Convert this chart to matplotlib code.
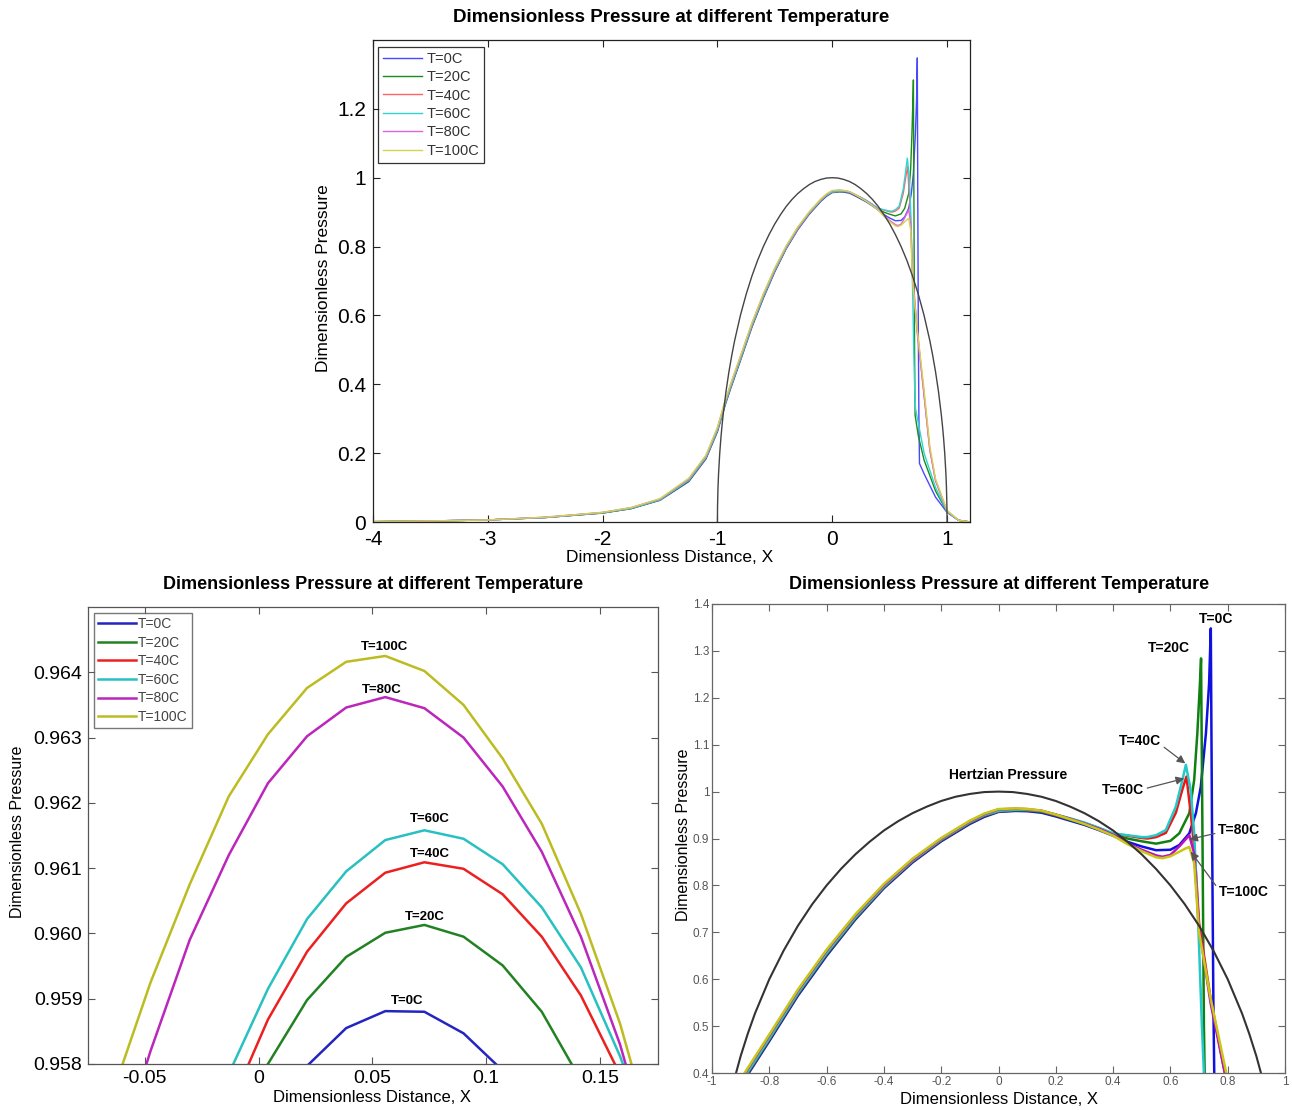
import matplotlib
matplotlib.use('Agg')
import matplotlib.pyplot as plt
from matplotlib.ticker import FuncFormatter, FixedLocator

plt.rcParams['font.family'] = ['Liberation Sans', 'DejaVu Sans']

# ---------------- data ----------------
labels = ['T=0C', 'T=20C', 'T=40C', 'T=60C', 'T=80C', 'T=100C']

# inlet / contact part (shared x)
inlet_x = [-4.0, -3.5, -3.0, -2.5, -2.0, -1.75, -1.5, -1.25, -1.1, -1.0, -0.93, -0.88,
           -0.8, -0.7, -0.6, -0.5, -0.4, -0.3, -0.2, -0.1, -0.05, 0.0, 0.06, 0.1, 0.15,
           0.2, 0.25, 0.3, 0.35, 0.4]
inlet_T0 = [0.001, 0.003, 0.006, 0.013, 0.026, 0.039, 0.063, 0.117, 0.183, 0.262, 0.342, 0.392,
            0.468, 0.565, 0.650, 0.727, 0.794, 0.849, 0.894, 0.931, 0.946, 0.9567, 0.9588, 0.9582, 0.955,
            0.947, 0.938, 0.929, 0.918, 0.906]
inlet_T20 = [0.001, 0.003, 0.006, 0.013, 0.026, 0.039, 0.064, 0.119, 0.185, 0.265, 0.345, 0.395,
             0.471, 0.568, 0.653, 0.729, 0.796, 0.851, 0.896, 0.933, 0.948, 0.9577, 0.9600, 0.9597, 0.9570,
             0.949, 0.940, 0.931, 0.920, 0.908]
inlet_T40 = [0.001, 0.003, 0.006, 0.013, 0.027, 0.040, 0.065, 0.121, 0.187, 0.267, 0.347, 0.397,
             0.473, 0.570, 0.655, 0.731, 0.797, 0.852, 0.897, 0.934, 0.949, 0.9584, 0.9610, 0.9608, 0.9585,
             0.950, 0.942, 0.933, 0.922, 0.910]
inlet_T60 = [0.001, 0.003, 0.006, 0.013, 0.027, 0.040, 0.065, 0.122, 0.188, 0.268, 0.348, 0.398,
             0.474, 0.571, 0.656, 0.732, 0.798, 0.853, 0.898, 0.935, 0.950, 0.9589, 0.9615, 0.9612, 0.9589,
             0.951, 0.943, 0.934, 0.923, 0.911]
inlet_T80 = [0.001, 0.003, 0.006, 0.014, 0.028, 0.042, 0.067, 0.125, 0.192, 0.273, 0.354, 0.404,
             0.480, 0.576, 0.661, 0.736, 0.801, 0.855, 0.900, 0.937, 0.952, 0.9620, 0.9636, 0.9626, 0.9592,
             0.951, 0.942, 0.932, 0.921, 0.908]
inlet_T100 = [0.001, 0.003, 0.006, 0.014, 0.028, 0.042, 0.068, 0.127, 0.194, 0.275, 0.356, 0.406,
              0.482, 0.578, 0.663, 0.738, 0.803, 0.857, 0.901, 0.938, 0.953, 0.9628, 0.9642, 0.9631, 0.9596,
              0.951, 0.941, 0.931, 0.919, 0.906]

# outlet part (pressure spike region), individual x for each temperature
out_x_T0 = [0.45, 0.5, 0.55, 0.6, 0.631, 0.666, 0.689, 0.706, 0.724, 0.735, 0.741, 0.745, 0.75, 0.755, 0.76, 0.8, 0.9, 1.0, 1.1, 1.2]
out_p_T0 = [0.893, 0.883, 0.875, 0.876, 0.886, 0.911, 0.954, 1.01, 1.124, 1.23, 1.348, 0.95, 0.55, 0.30, 0.17, 0.14, 0.072, 0.028, 0.005, 0.0]
out_x_T20 = [0.45, 0.5, 0.55, 0.6, 0.631, 0.666, 0.683, 0.694, 0.703, 0.707, 0.712, 0.717, 0.722, 0.75, 0.8, 0.9, 1.0, 1.1, 1.2]
out_p_T20 = [0.900, 0.894, 0.889, 0.895, 0.911, 0.954, 1.025, 1.124, 1.23, 1.284, 0.90, 0.50, 0.31, 0.25, 0.18, 0.09, 0.03, 0.005, 0.0]
out_x_T40 = [0.45, 0.5, 0.52, 0.55, 0.584, 0.619, 0.642, 0.656, 0.671, 0.683, 0.69, 0.70, 0.74, 0.79, 0.85, 0.9, 1.0, 1.1, 1.2]
out_p_T40 = [0.906, 0.901, 0.900, 0.903, 0.912, 0.955, 1.005, 1.032, 0.954, 0.88, 0.82, 0.72, 0.56, 0.40, 0.21, 0.12, 0.032, 0.005, 0.0]
out_x_T60 = [0.45, 0.5, 0.52, 0.55, 0.584, 0.619, 0.642, 0.654, 0.671, 0.683, 0.691, 0.698, 0.71, 0.717, 0.725, 0.8, 0.9, 1.0, 1.1, 1.2]
out_p_T60 = [0.907, 0.903, 0.903, 0.907, 0.918, 0.968, 1.025, 1.057, 1.003, 0.911, 0.804, 0.705, 0.50, 0.40, 0.33, 0.20, 0.10, 0.03, 0.005, 0.0]
out_x_T80 = [0.45, 0.5, 0.55, 0.572, 0.6, 0.631, 0.666, 0.683, 0.70, 0.74, 0.79, 0.85, 0.9, 1.0, 1.1, 1.2]
out_p_T80 = [0.890, 0.876, 0.864, 0.861, 0.865, 0.883, 0.907, 0.868, 0.71, 0.55, 0.40, 0.21, 0.12, 0.032, 0.005, 0.0]
out_x_T100 = [0.45, 0.5, 0.55, 0.572, 0.6, 0.654, 0.666, 0.683, 0.70, 0.74, 0.795, 0.85, 0.9, 1.0, 1.1, 1.2]
out_p_T100 = [0.888, 0.873, 0.860, 0.858, 0.862, 0.879, 0.882, 0.847, 0.70, 0.56, 0.40, 0.22, 0.125, 0.034, 0.005, 0.0]

# Hertzian pressure
hertz_x = [-1.0, -0.999, -0.995, -0.99, -0.98, -0.97, -0.96, -0.95, -0.925, -0.9, -0.875, -0.85,
           -0.8, -0.75, -0.7, -0.65, -0.6, -0.55, -0.5, -0.45, -0.4, -0.35, -0.3, -0.25, -0.2,
           -0.15, -0.1, -0.05, 0.0, 0.05, 0.1, 0.15, 0.2, 0.25, 0.3, 0.35, 0.4, 0.45, 0.5, 0.55,
           0.6, 0.65, 0.7, 0.75, 0.8, 0.85, 0.875, 0.9, 0.925, 0.95, 0.96, 0.97, 0.98, 0.99,
           0.995, 0.999, 1.0]
hertz_p = [0.0, 0.045, 0.100, 0.141, 0.199, 0.243, 0.280, 0.312, 0.380, 0.436, 0.484, 0.527,
           0.600, 0.661, 0.714, 0.760, 0.800, 0.835, 0.866, 0.893, 0.917, 0.937, 0.954, 0.968, 0.980,
           0.989, 0.995, 0.999, 1.0, 0.999, 0.995, 0.989, 0.980, 0.968, 0.954, 0.937, 0.917, 0.893,
           0.866, 0.835, 0.800, 0.760, 0.714, 0.661, 0.600, 0.527, 0.484, 0.436, 0.380, 0.312,
           0.280, 0.243, 0.199, 0.141, 0.100, 0.045, 0.0]

# zoom on the pressure maximum
peak_x = [-0.0647, -0.0475, -0.0303, -0.0131, 0.0041, 0.0213, 0.0385, 0.0557,
          0.0729, 0.0901, 0.1073, 0.1245, 0.1417, 0.1589, 0.1761]
peak_T0 = [0.9510, 0.9528, 0.9544, 0.9560, 0.9571, 0.95797, 0.95855, 0.95881,
           0.95880, 0.95847, 0.95790, 0.9570, 0.9558, 0.9543, 0.9526]
peak_T20 = [0.9535, 0.9548, 0.9559, 0.9569, 0.95800, 0.95898, 0.95964, 0.96001,
            0.96013, 0.95995, 0.95951, 0.95880, 0.95775, 0.9565, 0.9550]
peak_T40 = [0.9538, 0.9549, 0.9560, 0.9573, 0.95868, 0.95972, 0.96046, 0.96093,
            0.96109, 0.96099, 0.96060, 0.95995, 0.95905, 0.95784, 0.9564]
peak_T60 = [0.9542, 0.9552, 0.9562, 0.95785, 0.95915, 0.96022, 0.96095, 0.96143,
            0.96158, 0.96145, 0.96106, 0.96040, 0.95948, 0.95812, 0.9565]
peak_T80 = [0.9563, 0.95820, 0.95990, 0.96120, 0.96230, 0.96302, 0.96346, 0.96362,
            0.96345, 0.96300, 0.96225, 0.96125, 0.95995, 0.95830, 0.9562]
peak_T100 = [0.9575, 0.95925, 0.96075, 0.96210, 0.96305, 0.96376, 0.96416, 0.96425,
             0.96402, 0.96350, 0.96268, 0.96168, 0.96030, 0.95862, 0.9565]

inlets = [inlet_T0, inlet_T20, inlet_T40, inlet_T60, inlet_T80, inlet_T100]
out_xs = [out_x_T0, out_x_T20, out_x_T40, out_x_T60, out_x_T80, out_x_T100]
out_ps = [out_p_T0, out_p_T20, out_p_T40, out_p_T60, out_p_T80, out_p_T100]
peaks = [peak_T0, peak_T20, peak_T40, peak_T60, peak_T80, peak_T100]

# ---------------- styles ----------------
top_colors = ['#4848ff', '#1a8c1a', '#ff6464', '#30d4d4', '#dc64dc', '#d4d450']
bl_colors = ['#2424c0', '#228222', '#ec2020', '#28c0c0', '#bb26bb', '#bcbc22']
br_colors = ['#1010e0', '#108010', '#ee1414', '#24c8c8', '#bb14bb', '#c8c814']

fmt = FuncFormatter(lambda v, p: ('%g' % round(v, 6)))

W, H = 1292, 1110
fig = plt.figure(figsize=(W / 100, H / 100), dpi=100)


def axes_px(l, t, r, b):
    return fig.add_axes([l / W, 1 - b / H, (r - l) / W, (b - t) / H])


def style_axes(ax, edge, lblsize, lblcolor='black', ticklen=5):
    for s in ax.spines.values():
        s.set_color(edge)
        s.set_linewidth(0.9)
    ax.tick_params(direction='in', top=True, right=True, length=ticklen, width=0.8,
                   color=edge, labelsize=lblsize, labelcolor=lblcolor, pad=4)


# ---------------- top chart ----------------
ax1 = axes_px(373, 40, 970, 522)
for i in range(6):
    xs = inlet_x + out_xs[i]
    ps = inlets[i] + out_ps[i]
    ax1.plot(xs, ps, color=top_colors[i], lw=1.0, label=labels[i])
ax1.plot(hertz_x, hertz_p, color='#444444', lw=1.0)
ax1.set_xlim(-4, 1.2)
ax1.set_ylim(0, 1.4)
ax1.xaxis.set_major_locator(FixedLocator([-4, -3, -2, -1, 0, 1]))
ax1.yaxis.set_major_locator(FixedLocator([0, 0.2, 0.4, 0.6, 0.8, 1.0, 1.2]))
ax1.xaxis.set_major_formatter(fmt)
ax1.yaxis.set_major_formatter(fmt)
style_axes(ax1, '#222222', 15, ticklen=5)
ax1.tick_params(axis='x', pad=6)
ax1.tick_params(axis='y', pad=5)
leg1 = ax1.legend(loc='upper left', bbox_to_anchor=(0.008, 0.986), borderaxespad=0,
                  fontsize=10.5, frameon=True, fancybox=False, edgecolor='black',
                  handlelength=2.7, handletextpad=0.3, labelspacing=0.3, borderpad=0.35)
leg1.get_frame().set_linewidth(0.9)
for t in leg1.get_texts():
    t.set_color('#333333')
fig.text(671 / W, 1 - 18 / H, 'Dimensionless Pressure at different Temperature',
         ha='center', va='center', fontsize=13.5, fontweight='bold')
fig.text(670 / W, 1 - 558 / H, 'Dimensionless Distance, X', ha='center', va='center', fontsize=12.5)
fig.text(323 / W, 1 - 278 / H, 'Dimensionless Pressure', ha='center', va='center',
         fontsize=12.5, rotation=90)

# ---------------- bottom-left chart ----------------
ax2 = axes_px(88, 607, 658, 1064)
for i in range(6):
    ax2.plot(peak_x, peaks[i], color=bl_colors[i], lw=1.8, label=labels[i])
ax2.set_xlim(-0.075, 0.1756)
ax2.set_ylim(0.958, 0.965)
ax2.xaxis.set_major_locator(FixedLocator([-0.05, 0, 0.05, 0.1, 0.15]))
ax2.yaxis.set_major_locator(FixedLocator([0.958, 0.959, 0.960, 0.961, 0.962, 0.963, 0.964]))
ax2.xaxis.set_major_formatter(fmt)
ax2.yaxis.set_major_formatter(FuncFormatter(lambda v, p: '%.3f' % v))
style_axes(ax2, '#555555', 14, ticklen=5)
leg2 = ax2.legend(loc='upper left', bbox_to_anchor=(0.011, 0.987), borderaxespad=0,
                  fontsize=10, frameon=True, fancybox=False, edgecolor='#555555',
                  handlelength=2.7, handletextpad=0.15, labelspacing=0.33, borderpad=0.3)
leg2.get_frame().set_linewidth(1.0)
for t in leg2.get_texts():
    t.set_color('#444444')
bl_ann = [('T=100C', 0.0554, 0.96438), ('T=80C', 0.0541, 0.96373), ('T=60C', 0.0752, 0.96175),
          ('T=40C', 0.0752, 0.96121), ('T=20C', 0.0730, 0.96025), ('T=0C', 0.0655, 0.95896)]
for txt, xx, yy in bl_ann:
    ax2.text(xx, yy, txt, ha='center', va='center', fontsize=9.5, fontweight='bold')
fig.text(373 / W, 1 - 585 / H, 'Dimensionless Pressure at different Temperature',
         ha='center', va='center', fontsize=13, fontweight='bold')
fig.text(372 / W, 1 - 1098 / H, 'Dimensionless Distance, X', ha='center', va='center', fontsize=12)
fig.text(18 / W, 1 - 832 / H, 'Dimensionless Pressure', ha='center', va='center',
         fontsize=11.5, rotation=90)

# ---------------- bottom-right chart ----------------
ax3 = axes_px(712, 604, 1285, 1073)
for i in range(6):
    xs = inlet_x + out_xs[i]
    ps = inlets[i] + out_ps[i]
    ax3.plot(xs, ps, color=br_colors[i], lw=1.8, label=labels[i])
ax3.plot(hertz_x, hertz_p, color='#333333', lw=1.5)
ax3.set_xlim(-1, 1)
ax3.set_ylim(0.4, 1.4)
ax3.xaxis.set_major_locator(FixedLocator([-1, -0.8, -0.6, -0.4, -0.2, 0, 0.2, 0.4, 0.6, 0.8, 1]))
ax3.yaxis.set_major_locator(FixedLocator([0.4, 0.5, 0.6, 0.7, 0.8, 0.9, 1.0, 1.1, 1.2, 1.3, 1.4]))
ax3.xaxis.set_major_formatter(fmt)
ax3.yaxis.set_major_formatter(fmt)
style_axes(ax3, '#666666', 8.5, lblcolor='#555555', ticklen=5)
ax3.tick_params(pad=2)

ax3.text(0.035, 1.035, 'Hertzian Pressure', ha='center', va='center', fontsize=10, fontweight='bold')
ax3.text(0.76, 1.368, 'T=0C', ha='center', va='center', fontsize=10, fontweight='bold')
ax3.text(0.596, 1.306, 'T=20C', ha='center', va='center', fontsize=10, fontweight='bold')
arrow = dict(arrowstyle='-|>', color='#555555', lw=0.9, mutation_scale=12,
             shrinkA=0, shrinkB=0)
ax3.annotate('T=40C', xy=(0.652, 1.06), xytext=(0.495, 1.108), ha='center', va='center',
             fontsize=10, fontweight='bold', arrowprops=dict(arrow, relpos=(1.0, 0.2)))
ax3.annotate('T=60C', xy=(0.648, 1.028), xytext=(0.436, 1.003), ha='center', va='center',
             fontsize=10, fontweight='bold', arrowprops=dict(arrow, relpos=(1.0, 0.6)))
ax3.annotate('T=80C', xy=(0.666, 0.898), xytext=(0.765, 0.918), ha='left', va='center',
             fontsize=10, fontweight='bold', arrowprops=dict(arrow, relpos=(0.0, 0.3)))
ax3.annotate('T=100C', xy=(0.671, 0.872), xytext=(0.768, 0.786), ha='left', va='center',
             fontsize=10, fontweight='bold', arrowprops=dict(arrow, relpos=(0.0, 0.7)))
fig.text(999 / W, 1 - 585 / H, 'Dimensionless Pressure at different Temperature',
         ha='center', va='center', fontsize=13, fontweight='bold')
fig.text(999 / W, 1 - 1100 / H, 'Dimensionless Distance, X', ha='center', va='center', fontsize=12)
fig.text(683 / W, 1 - 835 / H, 'Dimensionless Pressure', ha='center', va='center',
         fontsize=11.5, rotation=90)

fig.savefig('out.png', dpi=100)
